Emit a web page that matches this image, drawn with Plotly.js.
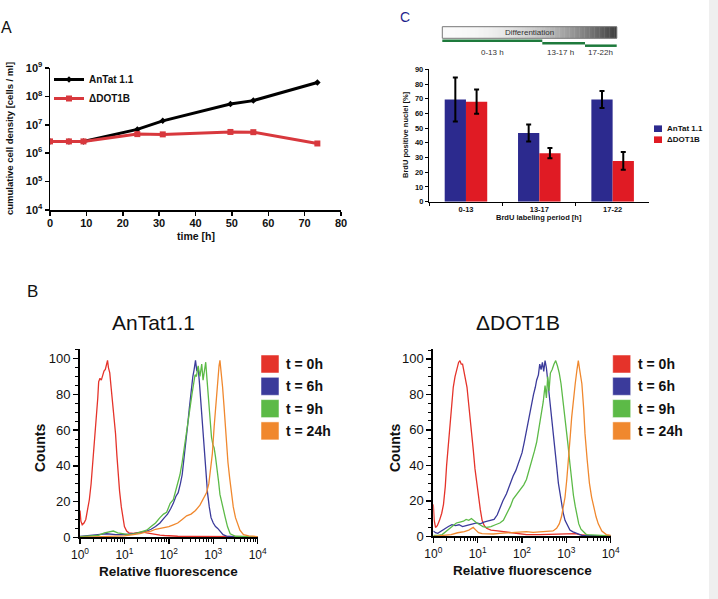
<!DOCTYPE html>
<html><head><meta charset="utf-8">
<script src="https://cdn.plot.ly/plotly-3.0.1.min.js"></script>
<style>html,body{margin:0;padding:0;background:#fff;}#chart{width:718px;height:599px;}</style>
</head><body><div id="chart"></div>
<script>
// ---------- Panel A: growth ----------
const timeA = [0, 5.2, 9.2, 24, 31, 49.6, 55.9, 73.5];
const densAnTat = [2.6e6, 2.6e6, 2.6e6, 6.9e6, 1.38e7, 5.4e7, 7.1e7, 3.1e8];
const densDot1b = [2.6e6, 2.6e6, 2.6e6, 4.7e6, 4.6e6, 5.6e6, 5.5e6, 2.2e6];
const seriesA = ['AnTat 1.1', '\u0394DOT1B'];
const logTicksA = [4, 5, 6, 7, 8, 9];

// ---------- Panel C: BrdU ----------
const periods = ['0-13', '13-17', '17-22'];
const brduAnTat = [69.5, 46.7, 69.5];
const brduAnTatErr = [15, 5.8, 5.8];
const brduDot1b = [68, 33, 27.7];
const brduDot1bErr = [8.3, 3.5, 6];
const periodLabels = ['0-13 h', '13-17 h', '17-22h'];

// ---------- Panel B: FACS histograms (x as log10 fluorescence) ----------
const histNames = ['t = 0h', 't = 6h', 't = 9h', 't = 24h'];
const logTicksB = [0, 1, 2, 3, 4];

const antRedX = [0,0.02,0.05,0.09,0.13,0.17,0.21,0.25,0.29,0.33,0.37,0.40,0.42,0.45,0.48,0.51,0.54,0.57,0.60,0.62,0.64,0.67,0.70,0.74,0.77,0.80,0.83,0.86,0.89,0.93,0.97,1.0,1.05,1.1,1.2,1.3,1.4,1.5,1.6,1.7,1.8,1.9,2.0,2.2,2.5,3.0,3.5,4.0];
const antRedY = [15,9,7,8,10,15,21,30,42,55,66,78,87,89,88,91,93,94,97,99,95,92,84,74,66,58,46,35,26,17,10,6,3.5,2.5,2.2,2.5,3,2.5,2,1.5,1.2,1,0.8,0.6,0.5,0.5,0.4,0.3];

const antBlueX = [0,0.2,0.4,0.6,0.8,1.0,1.2,1.35,1.5,1.6,1.7,1.8,1.9,1.97,2.04,2.1,2.16,2.21,2.26,2.3,2.34,2.38,2.42,2.46,2.5,2.54,2.57,2.6,2.63,2.66,2.69,2.72,2.75,2.78,2.81,2.84,2.87,2.91,2.95,3.0,3.05,3.1,3.16,3.22,3.3,3.45,4.0];
const antBlueY = [0.5,0.8,1.5,2,1.5,1.5,2,2.5,3.5,4.5,6,8,11,13,16,19,23,25,30,35,44,52,62,72,82,90,94,99,93,95,86,76,65,52,42,32,25,17,11,8,6,5,3.5,1.5,0.7,0.3,0.2];

const antGreenX = [0,0.2,0.4,0.55,0.65,0.75,0.85,0.95,1.1,1.25,1.4,1.5,1.6,1.7,1.8,1.88,1.95,2.03,2.1,2.18,2.25,2.3,2.35,2.4,2.44,2.48,2.52,2.56,2.59,2.62,2.66,2.7,2.74,2.77,2.8,2.83,2.86,2.89,2.93,2.96,2.99,3.02,3.05,3.08,3.12,3.15,3.19,3.23,3.27,3.32,3.38,3.5,4.0];
const antGreenY = [0.3,0.5,1,2.5,3,3.5,2.5,2,1.5,2,3,4,6,8,11,13,14,19,21,28,35,42,50,60,66,73,80,86,91,90,96,90,97,88,92,98,88,79,64,56,52,50,45,40,31,24,19,15,11,6,2,0.6,0.2];

const antOrangeX = [0,0.5,1.0,1.2,1.35,1.5,1.6,1.7,1.8,1.9,2.0,2.1,2.2,2.3,2.4,2.5,2.6,2.7,2.78,2.85,2.9,2.94,2.98,3.02,3.05,3.08,3.11,3.13,3.15,3.17,3.19,3.21,3.24,3.27,3.3,3.33,3.37,3.41,3.45,3.5,3.55,3.6,3.68,3.8,4.0];
const antOrangeY = [0,0.3,0.8,1.5,2,3,3.5,4.5,5,5.5,6,7,8,10,12,13,15,18,22,25,30,40,47,62,72,85,92,96,99,95,90,84,74,62,50,42,33,24,17,11,7,4,1.5,0.8,0.4];

const dotRedX = [0,0.02,0.05,0.09,0.14,0.19,0.23,0.27,0.3,0.34,0.38,0.42,0.45,0.49,0.53,0.57,0.6,0.63,0.66,0.7,0.73,0.76,0.8,0.83,0.87,0.9,0.94,0.98,1.02,1.06,1.1,1.15,1.2,1.3,1.45,1.6,1.75,1.9,2.1,2.4,2.7,2.9,3.1,3.2,3.3,3.5,4.0];
const dotRedY = [18,9,5,6,9,13,18,28,40,52,64,74,84,90,94,98,99,97,97,92,88,84,74,65,57,49,38,30,21,15,9,6,4.5,3.5,3,2.5,2,1.5,1,1,1.2,1.5,1.8,1.5,1,0.5,0.3];

const dotBlueX = [0,0.05,0.1,0.18,0.26,0.34,0.42,0.5,0.58,0.66,0.74,0.82,0.9,0.98,1.06,1.14,1.22,1.3,1.37,1.44,1.5,1.57,1.65,1.72,1.8,1.86,1.92,2.0,2.05,2.1,2.14,2.18,2.22,2.26,2.3,2.33,2.37,2.4,2.43,2.46,2.49,2.52,2.55,2.59,2.63,2.67,2.71,2.74,2.78,2.82,2.86,2.89,2.93,2.97,3.02,3.08,3.15,3.23,3.35,4.0];
const dotBlueY = [3,2,1.7,3,4.5,5.5,6.5,6,6.5,5.5,6,6.5,7,7.5,7,8,8.5,9,9.5,12,16,20,24,29,34,37,41,47,53,60,64,71,75,80,84,88,91,97,94,98,93,99,95,86,76,65,56,49,40,30,24,17,13,9,6,3.5,2.5,1.7,0.5,0.2];

const dotGreenX = [0,0.1,0.2,0.28,0.36,0.44,0.52,0.6,0.68,0.74,0.8,0.86,0.92,0.98,1.05,1.12,1.2,1.3,1.4,1.5,1.58,1.66,1.74,1.8,1.86,1.92,1.98,2.04,2.1,2.16,2.22,2.28,2.33,2.38,2.43,2.48,2.52,2.55,2.58,2.61,2.64,2.68,2.72,2.76,2.8,2.84,2.88,2.92,2.96,3.0,3.04,3.08,3.12,3.16,3.2,3.24,3.28,3.33,3.38,3.45,4.0];
const dotGreenY = [0.5,0.5,1,2.5,4,6,7.5,8,8.5,9.5,9,10,8.5,7.5,6.5,5.5,5,5.5,6.5,7.5,9,13,17,21,23,25,27,29,32,37,42,48,53,60,67,76,85,78,90,82,92,94,97,99,96,92,86,78,69,60,51,41,30,23,17,11,7,4,2.5,1,0.2];

const dotOrangeX = [0,0.2,0.4,0.55,0.7,0.8,0.9,0.96,1.02,1.1,1.2,1.35,1.5,1.65,1.8,1.95,2.1,2.25,2.4,2.55,2.7,2.78,2.84,2.89,2.93,2.97,3.01,3.05,3.09,3.12,3.16,3.2,3.24,3.27,3.3,3.35,3.39,3.42,3.47,3.52,3.57,3.61,3.67,3.72,3.8,3.9,4.0];
const dotOrangeY = [0,0.3,1,2,2.6,3.5,5,3.5,2,1.5,1.3,1.3,1.7,2,2.3,2.6,2.6,2.2,2.4,2.6,3,4.5,7,11,16,22,32,43,57,67,78,86,94,99,94,86,72,58,43,30,22,17,11,7,3,1,0.5];

// ---------- styling ----------
const W = 718, H = 599;
const px = x => x / W, py = y => 1 - y / H;
const FONT = 'Liberation Sans, Arial, Helvetica, sans-serif';
const histColors = ['#e5332a', '#3b3b9b', '#5cba47', '#f0882e'];
const barColors = ['#2c2a8e', '#e01b24'];
const pow10 = a => a.map(v => Math.pow(10, v));
const sup = v => '10<sup>' + v + '</sup>';

const traces = [];
// A
traces.push({x: timeA, y: densAnTat, name: seriesA[0], type: 'scatter', mode: 'lines+markers',
  line: {color: '#000', width: 3}, marker: {symbol: 'diamond', size: 5, color: '#000'}, xaxis: 'x', yaxis: 'y'});
traces.push({x: timeA, y: densDot1b, name: seriesA[1], type: 'scatter', mode: 'lines+markers',
  line: {color: '#d8383d', width: 3}, marker: {symbol: 'square', size: 6, color: '#d8383d'}, xaxis: 'x', yaxis: 'y'});
// C
traces.push({x: periods, y: brduAnTat, type: 'bar', name: seriesA[0], marker: {color: barColors[0]},
  error_y: {type: 'data', array: brduAnTatErr, color: '#000', thickness: 2, width: 2.5}, xaxis: 'x2', yaxis: 'y2', showlegend: false});
traces.push({x: periods, y: brduDot1b, type: 'bar', name: seriesA[1], marker: {color: barColors[1]},
  error_y: {type: 'data', array: brduDot1bErr, color: '#000', thickness: 2, width: 2.5}, xaxis: 'x2', yaxis: 'y2', showlegend: false});
// B
const leftSets = [[antRedX, antRedY], [antBlueX, antBlueY], [antGreenX, antGreenY], [antOrangeX, antOrangeY]];
const rightSets = [[dotRedX, dotRedY], [dotBlueX, dotBlueY], [dotGreenX, dotGreenY], [dotOrangeX, dotOrangeY]];
[0, 1, 2, 3].forEach(i => {
  traces.push({x: pow10(leftSets[i][0]), y: leftSets[i][1], type: 'scatter', mode: 'lines', name: histNames[i],
    line: {color: histColors[i], width: 1.3}, xaxis: 'x3', yaxis: 'y3', showlegend: false});
  traces.push({x: pow10(rightSets[i][0]), y: rightSets[i][1], type: 'scatter', mode: 'lines', name: histNames[i],
    line: {color: histColors[i], width: 1.3}, xaxis: 'x4', yaxis: 'y4', showlegend: false});
});

const baseAxis = {showline: true, linecolor: '#000', showgrid: false, zeroline: false, ticks: 'outside',
  tickcolor: '#000', fixedrange: true};

const logAxisB = (dom, anchor) => Object.assign({}, baseAxis, {
  domain: dom, anchor: anchor, type: 'log', range: [0, 4], linewidth: 2, tickwidth: 1.5, ticklen: 5,
  tickvals: pow10(logTicksB), ticktext: logTicksB.map(sup),
  tickfont: {family: FONT, size: 12, color: '#111'},
  minor: {dtick: 'D1', ticks: 'outside', ticklen: 3, tickcolor: '#000', tickwidth: 1}
});
const countAxisB = (dom, anchor) => Object.assign({}, baseAxis, {
  domain: dom, anchor: anchor, range: [0, 105.4], linewidth: 2, tickwidth: 1.5, ticklen: 5,
  tickvals: [0, 20, 40, 60, 80, 100], tickfont: {family: FONT, size: 13, color: '#111'},
  minor: {dtick: 5, ticks: 'outside', ticklen: 3, tickcolor: '#000', tickwidth: 1}
});

const shapes = [];
const annotations = [];
// grey band at right edge
shapes.push({type: 'rect', xref: 'paper', yref: 'paper', x0: px(709), x1: 1, y0: 0, y1: 1,
  fillcolor: '#efefef', line: {width: 0}, layer: 'below'});

// Differentiation gradient bar
const gx0 = 442.3, gx1 = 616.7, gy0 = 26.7, gy1 = 38.3, NS = 70;
for (let k = 0; k < NS; k++) {
  const t = (k + 0.5) / NS;
  const c = Math.round(250 - 190 * Math.pow(t, 2.2));
  shapes.push({type: 'rect', xref: 'paper', yref: 'paper',
    x0: px(gx0 + (gx1 - gx0) * k / NS), x1: px(gx0 + (gx1 - gx0) * (k + 1) / NS + 0.4),
    y0: py(gy1), y1: py(gy0), fillcolor: `rgb(${c},${c},${c})`, line: {width: 0}});
}
shapes.push({type: 'rect', xref: 'paper', yref: 'paper', x0: px(gx0), x1: px(gx1), y0: py(gy1), y1: py(gy0),
  line: {color: '#777', width: 1}});
// green period lines
const segs = [[442.3, 542.3, 40.7], [542.3, 585, 43.3], [585, 616.7, 45.7]];
segs.forEach(s => shapes.push({type: 'line', xref: 'paper', yref: 'paper', x0: px(s[0]), x1: px(s[1]),
  y0: py(s[2]), y1: py(s[2]), line: {color: '#1e7a3c', width: 2.5}}));
const segLabX = [492, 560, 600];
periodLabels.forEach((t, i) => annotations.push({text: t, x: px(segLabX[i]), y: py(52.5), xref: 'paper', yref: 'paper',
  showarrow: false, xanchor: 'center', yanchor: 'middle', font: {family: FONT, size: 8, color: '#333'}}));
annotations.push({text: 'Differentiation', x: px(529), y: py(32.5), xref: 'paper', yref: 'paper', showarrow: false,
  xanchor: 'center', yanchor: 'middle', font: {family: FONT, size: 8, color: '#333'}});

// C legend
seriesA.forEach((n, i) => {
  const cy = 128.7 + 11 * i;
  shapes.push({type: 'rect', xref: 'paper', yref: 'paper', x0: px(654), x1: px(662), y0: py(cy + 3.3), y1: py(cy - 3.3),
    fillcolor: barColors[i], line: {width: 0}});
  annotations.push({text: '<b>' + n + '</b>', x: px(665), y: py(cy), xref: 'paper', yref: 'paper', showarrow: false,
    xanchor: 'left', yanchor: 'middle', font: {family: FONT, size: 8, color: '#111'}});
});

// B legends
[[261, 284], [612.7, 636]].forEach(pos => {
  histNames.forEach((n, i) => {
    const cy = 364 + 22.3 * i;
    shapes.push({type: 'rect', xref: 'paper', yref: 'paper', x0: px(pos[0]), x1: px(pos[0] + 18), y0: py(cy + 9), y1: py(cy - 9),
      fillcolor: histColors[i], line: {width: 1, color: 'rgba(255,255,255,0.5)'}});
    annotations.push({text: '<b>' + n + '</b>', x: px(pos[1]), y: py(cy), xref: 'paper', yref: 'paper', showarrow: false,
      xanchor: 'left', yanchor: 'middle', font: {family: FONT, size: 14, color: '#111'}});
  });
});

// text annotations
const ann = (text, x, y, size, opts) => annotations.push(Object.assign({text: text, x: px(x), y: py(y), xref: 'paper', yref: 'paper',
  showarrow: false, xanchor: 'center', yanchor: 'middle', font: {family: FONT, size: size, color: '#111'}}, opts || {}));
ann('A', 6, 27, 16);
ann('B', 32, 291, 17);
ann('C', 405, 17, 14, {font: {family: FONT, size: 14, color: '#1f1f8c'}});
ann('<b>cumulative cell density [cells / ml]</b>', 10, 139, 9.5, {textangle: -90});
ann('<b>time [h]</b>', 196, 236, 10.5);
ann('<b>BrdU positive nuclei [%]</b>', 405, 135, 7.5, {textangle: -90});
ann('<b>BrdU labeling period [h]</b>', 539, 217, 7.5);
ann('AnTat1.1', 153, 322, 21);
ann('\u0394DOT1B', 518, 322, 21);
ann('<b>Counts</b>', 40, 448, 14, {textangle: -90});
ann('<b>Counts</b>', 395, 448, 14, {textangle: -90});
ann('<b>Relative fluorescence</b>', 168, 571, 13.5);
ann('<b>Relative fluorescence</b>', 522, 570, 13.5);

const layout = {
  width: W, height: H, margin: {l: 0, r: 0, t: 0, b: 0}, paper_bgcolor: '#fff', plot_bgcolor: 'rgba(0,0,0,0)',
  font: {family: FONT, color: '#111'},
  showlegend: true,
  legend: {x: px(49), y: py(65), xanchor: 'left', yanchor: 'top', bgcolor: 'rgba(0,0,0,0)',
    font: {family: FONT, size: 10, weight: 'bold', color: '#111'}, tracegroupgap: 0},
  barmode: 'group', bargap: 0.42, bargroupgap: 0,
  xaxis: Object.assign({}, baseAxis, {domain: [px(50), px(341)], anchor: 'y', range: [0, 80], tickvals: [0,10,20,30,40,50,60,70,80],
    linewidth: 1.5, ticklen: 4, tickwidth: 1.5, ticklabelstandoff: -2, tickfont: {family: FONT, size: 11, weight: 'bold', color: '#111'}}),
  yaxis: Object.assign({}, baseAxis, {domain: [py(210), py(68)], anchor: 'x', type: 'log', range: [4, 9],
    tickvals: pow10(logTicksA), ticktext: logTicksA.map(sup), linewidth: 1.5, ticklen: 4, tickwidth: 1.5,
    tickfont: {family: FONT, size: 11, weight: 'bold', color: '#111'}}),
  xaxis2: Object.assign({}, baseAxis, {domain: [px(429.3), px(649.3)], anchor: 'y2', type: 'category', tickson: 'boundaries',
    linewidth: 1.5, ticklen: 3, tickwidth: 1, tickfont: {family: FONT, size: 7.5, weight: 'bold', color: '#111'}}),
  yaxis2: Object.assign({}, baseAxis, {domain: [py(201.7), py(69.3)], anchor: 'x2', range: [0, 90], dtick: 10,
    linewidth: 1.5, ticklen: 3, tickwidth: 1, tickfont: {family: FONT, size: 7.5, weight: 'bold', color: '#111'}}),
  xaxis3: logAxisB([px(80), px(257.7)], 'y3'),
  yaxis3: countAxisB([py(537.3), py(349)], 'x3'),
  xaxis4: logAxisB([px(433.3), px(610.7)], 'y4'),
  yaxis4: countAxisB([py(536.3), py(349.3)], 'x4'),
  shapes: shapes, annotations: annotations
};

Plotly.newPlot('chart', traces, layout, {displayModeBar: false, staticPlot: true});
</script></body></html>
